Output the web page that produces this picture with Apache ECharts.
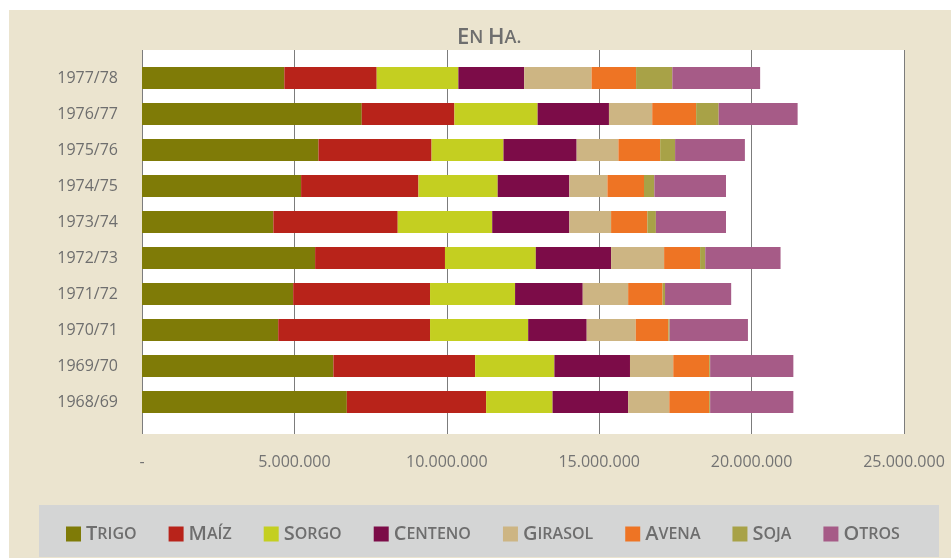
<!DOCTYPE html>
<html>
<head>
<meta charset="utf-8">
<script src="https://cdn.jsdelivr.net/npm/echarts@6/dist/echarts.min.js"></script>
<style>
  html, body { margin: 0; padding: 0; background: #fff; }
  #main { width: 951px; height: 558px; }
</style>
</head>
<body>
<div id="main"></div>
<script>
// campañas, de abajo hacia arriba
var campanas = ['1968/69', '1969/70', '1970/71', '1971/72', '1972/73',
                '1973/74', '1974/75', '1975/76', '1976/77', '1977/78'];

// superficie sembrada, en hectáreas
var trigo   = [6720000, 6280000, 4470000, 4960000, 5680000, 4310000, 5220000, 5790000, 7210000, 4670000];
var maiz    = [4570000, 4650000, 4980000, 4490000, 4260000, 4080000, 3850000, 3710000, 3040000, 3030000];
var sorgo   = [2180000, 2600000, 3220000, 2790000, 2980000, 3100000, 2600000, 2360000, 2730000, 2680000];
var centeno = [2480000, 2480000, 1920000, 2220000, 2470000, 2530000, 2350000, 2400000, 2340000, 2160000];
var girasol = [1350000, 1420000, 1610000, 1490000, 1740000, 1370000, 1250000, 1370000, 1420000, 2210000];
var avena   = [1310000, 1180000, 1070000, 1130000, 1180000, 1190000, 1200000, 1370000, 1440000, 1460000];
var soja    = [  30000,   30000,   40000,   80000,  170000,  280000,  340000,  490000,  740000, 1190000];
var otros   = [2730000, 2730000, 2570000, 2170000, 2470000, 2300000, 2350000, 2290000, 2590000, 2880000];

var ejeX = [0, 5000000, 10000000, 15000000, 20000000, 25000000];

var cultivos = [
  { name: 'Trigo',   data: trigo,   color: '#7f7b07' },
  { name: 'Maíz',    data: maiz,    color: '#b8231a' },
  { name: 'Sorgo',   data: sorgo,   color: '#c4cf21' },
  { name: 'Centeno', data: centeno, color: '#7c0c48' },
  { name: 'Girasol', data: girasol, color: '#cdb583' },
  { name: 'Avena',   data: avena,   color: '#ee7424' },
  { name: 'Soja',    data: soja,    color: '#a8a247' },
  { name: 'Otros',   data: otros,   color: '#a65b87' }
];

var gris = '#6e6e6e';

function miles(v) {
  if (v === 0) return '-';
  return String(v).replace(/\B(?=(\d{3})+(?!\d))/g, '.');
}

var myChart = echarts.init(document.getElementById('main'));

var series = cultivos.map(function (c) {
  return {
    name: c.name,
    type: 'bar',
    stack: 'total',
    xAxisIndex: 1,
    yAxisIndex: 1,
    barWidth: 22,
    itemStyle: { color: c.color },
    data: c.data
  };
});

myChart.setOption({
  animation: false,
  textStyle: { fontFamily: 'Open Sans' },
  title: {
    text: '{a|E}{b|N} {a|H}{b|A.}',
    left: 452,
    top: 22,
    textStyle: {
      rich: {
        a: { fontSize: 22, color: gris, fontFamily: 'Open Sans', fontWeight: 600 },
        b: { fontSize: 18, color: gris, fontFamily: 'Open Sans', fontWeight: 600 }
      }
    }
  },
  graphic: [
    { type: 'rect', z: -10, shape: { x: 9, y: 10, width: 942, height: 548 }, style: { fill: '#ebe4cf' } },
    { type: 'rect', z: -9, shape: { x: 39, y: 505, width: 900, height: 52 }, style: { fill: '#d4d5d5' } }
  ],
  legend: {
    left: 61,
    top: 519,
    itemWidth: 15,
    itemHeight: 15,
    itemGap: 32,
    icon: 'rect',
    data: cultivos.map(function (c) { return c.name; }),
    formatter: function (name) {
      return '{a|' + name.charAt(0).toUpperCase() + '}{b|' + name.slice(1).toUpperCase() + '}';
    },
    textStyle: {
      rich: {
        a: { fontSize: 20, color: gris, fontFamily: 'Open Sans', fontWeight: 600 },
        b: { fontSize: 16, color: gris, fontFamily: 'Open Sans', fontWeight: 600 }
      }
    }
  },
  grid: [
    { left: 142, right: 47, top: 50, bottom: 124, show: true, backgroundColor: '#fff', borderWidth: 0 },
    { left: 142, right: 47, top: 60, height: 360 }
  ],
  xAxis: [
    {
      gridIndex: 0, type: 'value', min: ejeX[0], max: ejeX[ejeX.length - 1], interval: ejeX[1] - ejeX[0],
      axisLine: { show: false }, axisTick: { show: false },
      splitLine: { show: true, lineStyle: { color: '#7c7c7c', width: 1 } },
      axisLabel: { formatter: miles, color: '#737373', fontSize: 16, margin: 20 }
    },
    {
      gridIndex: 1, type: 'value', min: ejeX[0], max: ejeX[ejeX.length - 1], show: false
    }
  ],
  yAxis: [
    { gridIndex: 0, type: 'value', show: false },
    {
      gridIndex: 1, type: 'category', data: campanas,
      axisLine: { show: false }, axisTick: { show: false },
      axisLabel: { color: gris, fontSize: 16, margin: 24 }
    }
  ],
  series: series
});
</script>
</body>
</html>
